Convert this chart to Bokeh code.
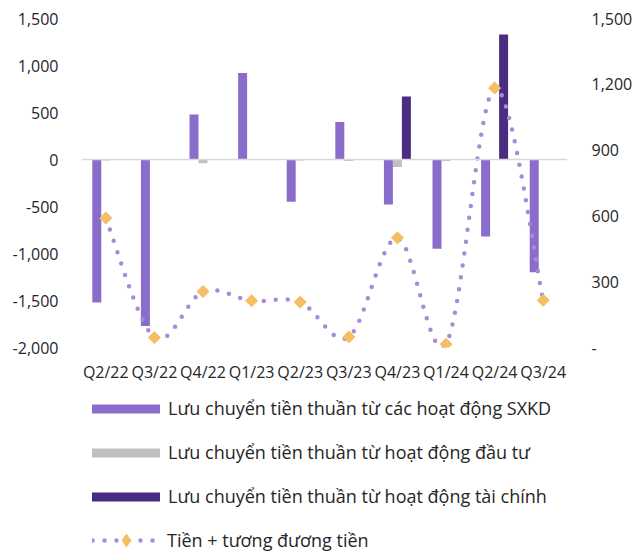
import numpy as np
from bokeh.plotting import figure
from bokeh.layouts import column
from bokeh.models import (Range1d, LinearAxis, FixedTicker, NumeralTickFormatter,
                          Span, Legend, LegendItem)
from bokeh.embed import file_html
from bokeh.resources import INLINE

quarters = ["Q2/22", "Q3/22", "Q4/22", "Q1/23", "Q2/23", "Q3/23", "Q4/23", "Q1/24", "Q2/24", "Q3/24"]
cf_operating = [-1520, -1770, 480, 920, -450, 400, -480, -950, -820, -1200]
cf_investing = [-10, -5, -40, 0, -10, -15, -80, -15, 0, 0]
cf_financing = [0, 0, 0, 0, 0, 0, 670, 0, 1330, 0]
cash = [590, 45, 255, 213, 207, 48, 500, 15, 1183, 215]
series_labels = ["Lưu chuyển tiền thuần từ các hoạt động SXKD",
                 "Lưu chuyển tiền thuần từ hoạt động đầu tư",
                 "Lưu chuyển tiền thuần từ hoạt động tài chính",
                 "Tiền + tương đương tiền"]

FONT = "Open Sans"
TXT = "#262626"
C_OP = "#8A6DCB"
C_INV = "#BFBFBF"
C_FIN = "#4A2D82"
C_LINE = "#A88BD8"
C_DIA = "#F5BE62"

W = 641
H1, H2 = 385, 168
BL, BR, BT, BB = 81, 74, 18, 35

p = figure(width=W, height=H1, output_backend="svg", toolbar_location=None,
           x_range=Range1d(-0.5, 9.5), y_range=Range1d(-2000, 1500),
           min_border_left=BL, min_border_right=BR, min_border_top=BT, min_border_bottom=BB)
p.extra_y_ranges = {"cash": Range1d(0, 1500)}
p.outline_line_color = None
p.grid.visible = False

x = np.arange(len(quarters))
bw = 0.185

p.add_layout(Span(location=0, dimension="width", line_color="#D9D9D9", line_width=1.5))

p.vbar(x=x - bw, top=cf_operating, bottom=0, width=bw, fill_color=C_OP, line_color=None)
p.vbar(x=x, top=cf_investing, bottom=0, width=bw, fill_color=C_INV, line_color=None)
p.vbar(x=x + bw, top=cf_financing, bottom=0, width=bw, fill_color=C_FIN, line_color=None)

# smoothed (Excel-like) curve through the cash values, computed in screen space
frame_w = W - BL - BR
frame_h = H1 - BT - BB
sx = frame_w / 10.0
sy = frame_h / 1500.0

def smooth(xs, ys, n=24):
    P = np.column_stack([np.asarray(xs, float) * sx, np.asarray(ys, float) * sy])
    out = []
    m = len(P)
    for i in range(m - 1):
        p0 = P[i - 1] if i > 0 else P[i]
        p1, p2_ = P[i], P[i + 1]
        p3 = P[i + 2] if i + 2 < m else P[i + 1]
        c1 = p1 + (p2_ - p0) / 6.0
        c2 = p2_ - (p3 - p1) / 6.0
        for t in np.linspace(0, 1, n, endpoint=False):
            b = ((1 - t) ** 3) * p1 + 3 * ((1 - t) ** 2) * t * c1 + 3 * (1 - t) * t * t * c2 + t ** 3 * p2_
            out.append(b)
    out.append(P[-1])
    out = np.array(out)
    return out[:, 0] / sx, out[:, 1] / sy

lx, ly = smooth(x, cash)
p.line(lx, ly, y_range_name="cash", line_color=C_LINE, line_width=4.5,
       line_dash="0 12", line_cap="round")
p.scatter(x, cash, y_range_name="cash", marker="square", angle=np.pi / 4,
          size=8.5, fill_color=C_DIA, line_color=C_DIA)

# axes
p.xaxis.ticker = FixedTicker(ticks=list(range(len(quarters))))
p.xaxis.major_label_overrides = {i: q for i, q in enumerate(quarters)}
p.yaxis.ticker = FixedTicker(ticks=[-2000, -1500, -1000, -500, 0, 500, 1000, 1500])
p.yaxis.formatter = NumeralTickFormatter(format="0,0")

right = LinearAxis(y_range_name="cash", ticker=FixedTicker(ticks=[0, 300, 600, 900, 1200, 1500]),
                   formatter=NumeralTickFormatter(format="0,0"), major_label_overrides={0: "-"})
p.add_layout(right, "right")

for ax in [p.xaxis[0], p.yaxis[0], right]:
    ax.axis_line_color = None
    ax.major_tick_line_color = None
    ax.minor_tick_line_color = None
    ax.major_label_text_font = FONT
    ax.major_label_text_color = TXT
    ax.major_label_text_font_size = "16px"
p.xaxis.major_label_standoff = 7
p.yaxis[0].major_label_standoff = 17
right.major_label_standoff = 18

# legend figure (its frame is aligned with the chart frame by the column layout)
p2 = figure(width=W, height=H2, output_backend="svg", toolbar_location=None,
            x_range=Range1d(-0.5, 9.5), y_range=Range1d(-2000, 1500),
            x_axis_location=None, y_axis_location=None,
            min_border_left=0, min_border_right=0, min_border_top=0, min_border_bottom=0)
p2.outline_line_color = None
p2.grid.visible = False

g_op = p2.vbar(x=x, top=cf_operating, width=bw, fill_color=C_OP, line_color=None, visible=False)
g_inv = p2.vbar(x=x, top=cf_investing, width=bw, fill_color=C_INV, line_color=None, visible=False)
g_fin = p2.vbar(x=x, top=cf_financing, width=bw, fill_color=C_FIN, line_color=None, visible=False)
g_line = p2.line(x, cash, line_color=C_LINE, line_width=4.5, line_dash="0 12", line_cap="round",
                 visible=False)
g_dia = p2.scatter(x, cash, marker="diamond", fill_color=C_DIA, line_color=C_DIA, visible=False)

def style(lg):
    lg.padding = 0
    lg.margin = 0
    lg.border_line_color = None
    lg.background_fill_alpha = 0
    lg.inactive_fill_alpha = 0
    lg.label_text_font = FONT
    lg.label_text_font_size = "18px"
    lg.label_text_color = TXT
    lg.label_height = 26

lg1 = Legend(items=[LegendItem(label=series_labels[0], renderers=[g_op]),
                    LegendItem(label=series_labels[1], renderers=[g_inv]),
                    LegendItem(label=series_labels[2], renderers=[g_fin])],
             location=(2, 44))
style(lg1)
lg1.glyph_width = 85
lg1.glyph_height = 11
lg1.label_standoff = -1
lg1.spacing = 18

lg2 = Legend(items=[LegendItem(label=series_labels[3], renderers=[g_line, g_dia])],
             location=(11, -3))
style(lg2)
lg2.glyph_width = 68
lg2.glyph_height = 32
lg2.label_standoff = 7

p2.add_layout(lg1, "center")
p2.add_layout(lg2, "center")

open("out.html", "w").write(file_html(column(p, p2, spacing=0), INLINE))
